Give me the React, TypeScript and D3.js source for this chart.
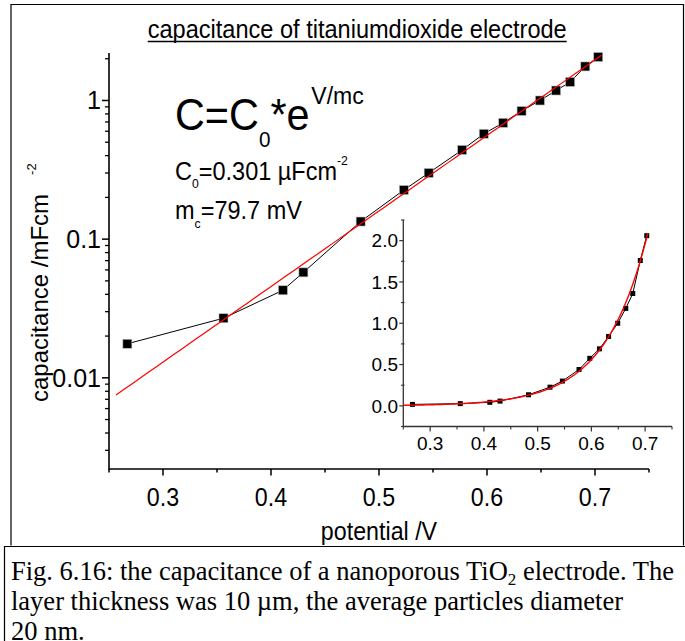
import React from "react";
import * as d3 from "d3";

// Measured capacitance of the TiO2 electrode versus potential
const potentials = [0.267, 0.356, 0.411, 0.43, 0.483, 0.523, 0.546, 0.577, 0.597, 0.615, 0.632, 0.649, 0.664, 0.677, 0.691, 0.703];
const capacitances = [0.0176, 0.0269, 0.0428, 0.0576, 0.134, 0.226, 0.3, 0.44, 0.575, 0.69, 0.84, 1.0, 1.18, 1.36, 1.76, 2.06];

// Exponential fit C = C0 * exp(V / mc)
const fitC0 = 0.301e-3; // mF/cm² (= 0.301 µF/cm²)
const fitMc = 0.0797; // V (= 79.7 mV)
const mainFitRange = [0.2565, 0.706];
const insetFitRange = [0.25, 0.705];

const mainXTicks = [0.3, 0.4, 0.5, 0.6, 0.7];
const mainXMinor = [0.25, 0.35, 0.45, 0.55, 0.65, 0.75];
const mainYTicks = [0.01, 0.1, 1];
const mainYLabels = ["0.01", "0.1", "1"];
const insetXTicks = [0.3, 0.4, 0.5, 0.6, 0.7];
const insetXMinor = [0.25, 0.35, 0.45, 0.55, 0.65, 0.75];
const insetYTicks = [0, 0.5, 1, 1.5, 2];
const insetYMinor = [-0.25, 0.25, 0.75, 1.25, 1.75, 2.25];

const SANS = "'Liberation Sans', Arial, sans-serif";
const SERIF = "'Liberation Serif', 'Times New Roman', serif";
const SQ = 0.93; // horizontal squeeze of the chart lettering

const fit = (v: number) => fitC0 * Math.exp(v / fitMc);

export default function App() {
  // main (log) panel
  const x = d3.scaleLinear().domain([0.25, 0.75]).range([109, 649]);
  const y = d3.scaleLog().domain([0.0022, 2.2]).range([469, 53]);
  // inset (linear) panel
  const ix = d3.scaleLinear().domain([0.25, 0.75]).range([403.3, 672]);
  const iy = d3.scaleLinear().domain([-0.25, 2.25]).range([426.5, 220]);

  const pts = potentials.map((v, i) => [v, capacitances[i]] as [number, number]);

  const mainLine = d3.line<[number, number]>().x((d) => x(d[0])).y((d) => y(d[1]));
  const insetLine = d3.line<[number, number]>().x((d) => ix(d[0])).y((d) => iy(d[1]));

  const mainFit = d3.range(0, 61).map((k) => {
    const v = mainFitRange[0] + ((mainFitRange[1] - mainFitRange[0]) * k) / 60;
    return [v, fit(v)] as [number, number];
  });
  const insetFit = d3.range(0, 121).map((k) => {
    const v = insetFitRange[0] + ((insetFitRange[1] - insetFitRange[0]) * k) / 120;
    return [v, fit(v)] as [number, number];
  });

  // log minor ticks 2..9 per decade inside the domain
  const [y0, y1] = y.domain();
  const yMinor: number[] = [];
  for (let e = -3; e <= 0; e++) {
    for (let m = 2; m <= 9; m++) {
      const val = m * Math.pow(10, e);
      if (val >= y0 && val <= y1) yMinor.push(val);
    }
  }

  const ms = 9; // main marker size
  const ims = 5; // inset marker size

  return (
    <svg
      width={685}
      height={641}
      viewBox="0 0 685 641"
      style={{ position: "absolute", left: 0, top: 0, background: "#fff" }}
    >
      <rect x={0} y={0} width={685} height={641} fill="#fff" />

      {/* figure frame */}
      <path d="M11,545.5 V4.5 H683.5 V545.5" fill="none" stroke="#000" strokeWidth={1.2} />
      <path d="M4.5,641 V546.5 H685" fill="none" stroke="#000" strokeWidth={1.2} />

      {/* title */}
      <text
        x={357.2}
        y={38}
        fontFamily={SANS}
        fontSize={25}
        textAnchor="middle"
        textLength={419}
        lengthAdjust="spacingAndGlyphs"
        fill="#000"
      >
        capacitance of titaniumdioxide electrode
      </text>
      <line x1={147.7} x2={566.7} y1={41.5} y2={41.5} stroke="#000" strokeWidth={1.5} />

      {/* main axes */}
      <line x1={x(0.25)} x2={x(0.75)} y1={469} y2={469} stroke="#000" strokeWidth={1.6} />
      <line x1={109} x2={109} y1={53} y2={469.8} stroke="#000" strokeWidth={1.6} />
      {mainXTicks.map((t) => (
        <g key={"mx" + t}>
          <line x1={x(t)} x2={x(t)} y1={469} y2={475.5} stroke="#000" strokeWidth={1.5} />
          <text
            transform={`translate(${x(t)},506) scale(${SQ},1)`}
            fontFamily={SANS}
            fontSize={25}
            textAnchor="middle"
          >
            {t.toFixed(1)}
          </text>
        </g>
      ))}
      {mainXMinor.map((t) => (
        <line key={"mxm" + t} x1={x(t)} x2={x(t)} y1={469} y2={472.5} stroke="#000" strokeWidth={1.5} />
      ))}
      {mainYTicks.map((t, i) => (
        <g key={"my" + t}>
          <line x1={102} x2={109} y1={y(t)} y2={y(t)} stroke="#000" strokeWidth={1.5} />
          <text x={101} y={y(t)} dy="0.36em" fontFamily={SANS} fontSize={25} textAnchor="end">
            {mainYLabels[i]}
          </text>
        </g>
      ))}
      {yMinor.map((t) => (
        <line key={"mym" + t} x1={105} x2={109} y1={y(t)} y2={y(t)} stroke="#000" strokeWidth={1.3} />
      ))}

      {/* axis titles */}
      <text
        transform={`translate(${x(0.5)},539.5) scale(${SQ},1)`}
        fontFamily={SANS}
        fontSize={25}
        textAnchor="middle"
      >
        potential /V
      </text>
      <text transform="translate(48,402) rotate(-90)" fontFamily={SANS} fontSize={24}>
        capacitance /mFcm
        <tspan fontSize={13} dx={19} dy={-12.5}>
          -2
        </tspan>
      </text>

      {/* main data */}
      <path d={mainLine(pts) ?? ""} fill="none" stroke="#000" strokeWidth={1} />
      {pts.map((d, i) => (
        <rect
          key={"mp" + i}
          x={x(d[0]) - ms / 2}
          y={y(d[1]) - ms / 2}
          width={ms}
          height={ms}
          fill="#000"
          stroke="#bbb"
          strokeWidth={0.6}
        />
      ))}
      <path d={mainLine(mainFit) ?? ""} fill="none" stroke="#ff0000" strokeWidth={1.2} />

      {/* fit equation and parameters */}
      <g transform={`translate(175,0) scale(${SQ + 0.01},1)`} fontFamily={SANS} fill="#000">
        <text x={0} y={130} fontSize={44}>
          C=C
          <tspan fontSize={22} dy={17}>
            0
          </tspan>
          <tspan fontSize={44} dy={-17}>
            *e
          </tspan>
          <tspan fontSize={24.5} dy={-26} dx={2}>
            V/mc
          </tspan>
        </text>
        <text x={0} y={180} fontSize={25}>
          C
          <tspan fontSize={13} dy={8}>
            0
          </tspan>
          <tspan fontSize={25} dy={-8}>
            =0.301 µFcm
          </tspan>
          <tspan fontSize={13} dy={-14.5}>
            -2
          </tspan>
        </text>
        <text x={0} y={219.3} fontSize={25}>
          m
          <tspan fontSize={13} dy={9}>
            c
          </tspan>
          <tspan fontSize={25} dy={-9}>
            =79.7 mV
          </tspan>
        </text>
      </g>

      {/* inset: linear scale */}
      <line x1={ix(0.25)} x2={ix(0.75)} y1={426.5} y2={426.5} stroke="#333" strokeWidth={1.3} />
      <line x1={403.3} x2={403.3} y1={220} y2={427} stroke="#333" strokeWidth={1.3} />
      {insetXTicks.map((t) => (
        <g key={"ix" + t}>
          <line x1={ix(t)} x2={ix(t)} y1={426.5} y2={431.5} stroke="#333" strokeWidth={1.2} />
          <text x={ix(t)} y={450} fontFamily={SANS} fontSize={19} textAnchor="middle">
            {t.toFixed(1)}
          </text>
        </g>
      ))}
      {insetXMinor.map((t) => (
        <line key={"ixm" + t} x1={ix(t)} x2={ix(t)} y1={426.5} y2={429.5} stroke="#333" strokeWidth={1.1} />
      ))}
      {insetYTicks.map((t) => (
        <g key={"iy" + t}>
          <line x1={399.3} x2={403.3} y1={iy(t)} y2={iy(t)} stroke="#333" strokeWidth={1.2} />
          <text x={398} y={iy(t)} dy="0.36em" fontFamily={SANS} fontSize={19} textAnchor="end">
            {t.toFixed(1)}
          </text>
        </g>
      ))}
      {insetYMinor.map((t) => (
        <line key={"iym" + t} x1={401} x2={404.5} y1={iy(t)} y2={iy(t)} stroke="#333" strokeWidth={1.1} />
      ))}
      <path d={insetLine(pts) ?? ""} fill="none" stroke="#000" strokeWidth={1} />
      {pts.map((d, i) => (
        <rect
          key={"ip" + i}
          x={ix(d[0]) - ims / 2}
          y={iy(d[1]) - ims / 2}
          width={ims}
          height={ims}
          fill="#000"
        />
      ))}
      <path d={insetLine(insetFit) ?? ""} fill="none" stroke="#ff0000" strokeWidth={1.4} />

      {/* caption */}
      <g fontFamily={SERIF} fontSize={26.5} fill="#000">
        <text x={11} y={579.5}>
          Fig. 6.16: the capacitance of a nanoporous TiO
          <tspan fontSize={17} dy={5}>
            2
          </tspan>
          <tspan dy={-5}>{" electrode. The"}</tspan>
        </text>
        <text x={11} y={610}>
          layer thickness was 10 µm, the average particles diameter
        </text>
        <text x={11} y={640}>
          20 nm.
        </text>
      </g>
    </svg>
  );
}
